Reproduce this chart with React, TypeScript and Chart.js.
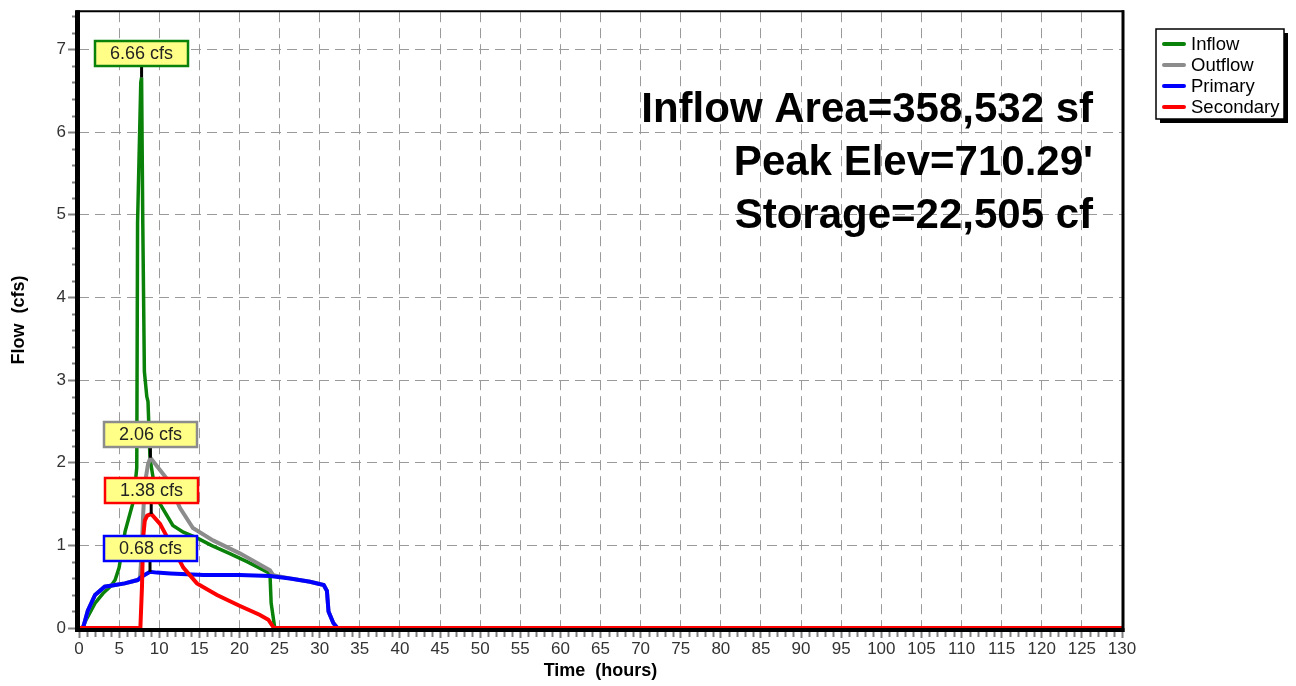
import React, { useEffect, useRef } from "react";
import { Chart, registerables } from "chart.js";
Chart.register(...registerables);

// ---- data (hours, cfs) ----
const inflowTime = [0, 0.4, 1.0, 2.0, 3.0, 3.9, 4.5, 5.0, 5.75, 6.4, 6.8, 7.2, 7.3, 7.7, 7.8, 7.95, 8.15, 8.45, 8.6, 8.85, 9.5, 10.1, 11.7, 13.0, 14.7, 16.5, 18.8, 21.0, 23.8, 23.95, 24.4, 130];
const inflowFlow = [0, 0, 0.12, 0.3, 0.42, 0.5, 0.58, 0.73, 1.17, 1.4, 1.54, 1.94, 4.9, 6.6, 6.66, 4.9, 3.1, 2.8, 2.74, 2.05, 1.66, 1.5, 1.24, 1.16, 1.09, 1.0, 0.9, 0.8, 0.66, 0.3, 0, 0];

const outflowTime = [0, 0.5, 1.1, 2.0, 3.2, 4.5, 5.7, 7.3, 7.6, 7.8, 8.0, 8.2, 8.6, 8.9, 9.7, 10.9, 12.6, 14.2, 16.7, 20.1, 23.8, 24.2, 26.3, 28.8, 30.5, 30.9, 31.1, 31.7, 32.2, 130];
const outflowFlow = [0, 0, 0.21, 0.4, 0.5, 0.52, 0.54, 0.58, 0.6, 0.9, 1.38, 1.74, 1.98, 2.06, 1.96, 1.81, 1.45, 1.21, 1.06, 0.9, 0.7, 0.64, 0.6, 0.56, 0.52, 0.45, 0.2, 0.06, 0, 0];

const primaryTime = [0, 0.5, 1.1, 2.0, 3.2, 4.5, 5.7, 7.3, 7.8, 8.85, 9.7, 11.4, 15.5, 20.0, 23.8, 26.3, 28.8, 30.5, 30.9, 31.1, 31.7, 32.2, 130];
const primaryFlow = [0, 0, 0.21, 0.4, 0.5, 0.52, 0.54, 0.58, 0.62, 0.68, 0.67, 0.66, 0.64, 0.64, 0.63, 0.6, 0.56, 0.52, 0.45, 0.2, 0.06, 0, 0];

const secondaryTime = [0, 7.65, 7.85, 8.0, 8.2, 8.5, 9.0, 10.1, 11.7, 13.0, 14.7, 17.2, 20.0, 22.5, 23.6, 24.3, 130];
const secondaryFlow = [0, 0, 0.5, 1.1, 1.3, 1.36, 1.38, 1.26, 0.97, 0.73, 0.54, 0.4, 0.27, 0.16, 0.1, 0, 0];

const seriesNames = ["Inflow", "Outflow", "Primary", "Secondary"];
const seriesColors = ["#0a820a", "#8c8c8c", "#0000ff", "#ff0000"];
const seriesWidths = [3.5, 4, 4, 4];

const infoLines = ["Inflow Area=358,532 sf", "Peak Elev=710.29'", "Storage=22,505 cf"];
const xTitle = "Time  (hours)";
const yTitle = "Flow  (cfs)";
const xMin = 0, xMax = 130, xStep = 5, xMinorStep = 1;
const yMin = 0, yMax = 7.45, yStep = 1, yMinorStep = 0.2;

const FONT = "Arial, 'Liberation Sans', sans-serif";

const overlayPlugin = {
  id: "overlay",
  afterDatasetsDraw(chart: any) {
    const { ctx, chartArea: ca, scales } = chart;
    const xs = scales.x, ys = scales.y;
    ctx.save();
    // minor ticks
    ctx.strokeStyle = "#808080";
    ctx.lineWidth = 2;
    for (let t = xMin; t <= xMax + 1e-9; t += xMinorStep) {
      if (Math.abs(t / xStep - Math.round(t / xStep)) < 1e-6) continue;
      const px = Math.round(xs.getPixelForValue(t)) + 0.5;
      ctx.beginPath(); ctx.moveTo(px, ca.bottom + 3); ctx.lineTo(px, ca.bottom + 9); ctx.stroke();
    }
    for (let v = yMin; v <= yMax + 1e-9; v += yMinorStep) {
      const r = v / yStep;
      if (Math.abs(r - Math.round(r)) < 1e-6) continue;
      const py = Math.round(ys.getPixelForValue(v)) + 0.5;
      ctx.beginPath(); ctx.moveTo(ca.left - 7, py); ctx.lineTo(ca.left - 2, py); ctx.stroke();
    }
    // frame
    ctx.strokeStyle = "#000";
    ctx.lineWidth = 2;
    ctx.beginPath(); ctx.moveTo(ca.left - 3, ca.top - 1); ctx.lineTo(ca.right + 2, ca.top - 1); ctx.stroke();
    ctx.lineWidth = 3;
    ctx.beginPath(); ctx.moveTo(ca.right + 1, ca.top - 2); ctx.lineTo(ca.right + 1, ca.bottom + 4); ctx.stroke();
    ctx.lineWidth = 5;
    ctx.beginPath(); ctx.moveTo(ca.left - 1.5, ca.top - 2); ctx.lineTo(ca.left - 1.5, ca.bottom + 4); ctx.stroke();
    ctx.lineWidth = 4;
    ctx.beginPath(); ctx.moveTo(ca.left - 4, ca.bottom + 2); ctx.lineTo(ca.right + 2.5, ca.bottom + 2); ctx.stroke();

    // callouts at peaks
    const peaks = chart.data.datasets.map((ds: any, i: number) => {
      let best = ds.data[0];
      for (const p of ds.data) if (p.y > best.y) best = p;
      return { i, p: best, color: ds.borderColor };
    });
    const boxW = 93, boxH = 25, gap = 11;
    ctx.strokeStyle = "#000";
    ctx.lineWidth = 3;
    for (const pk of peaks) {
      const px = xs.getPixelForValue(pk.p.x), py = ys.getPixelForValue(pk.p.y);
      ctx.beginPath(); ctx.moveTo(px, py - gap - boxH / 2); ctx.lineTo(px, py); ctx.stroke();
    }
    for (const pk of peaks) {
      const px = xs.getPixelForValue(pk.p.x), py = ys.getPixelForValue(pk.p.y);
      const bx = Math.round(px - boxW / 2), by = Math.round(py - gap - boxH);
      ctx.fillStyle = "#ffff88";
      ctx.fillRect(bx, by, boxW, boxH);
      ctx.strokeStyle = pk.color;
      ctx.lineWidth = 2.5;
      ctx.strokeRect(bx, by, boxW, boxH);
      ctx.fillStyle = "#222";
      ctx.font = `18px ${FONT}`;
      ctx.textAlign = "center";
      ctx.textBaseline = "middle";
      ctx.fillText(`${pk.p.y.toFixed(2)} cfs`, bx + boxW / 2, by + boxH / 2 + 1);
    }

    // info text
    ctx.fillStyle = "#000";
    ctx.font = `bold 42px ${FONT}`;
    ctx.textAlign = "right";
    ctx.textBaseline = "alphabetic";
    infoLines.forEach((s, i) => ctx.fillText(s, 1093, 122 + i * 53));

    // legend
    const lx = 1156, ly = 29, lw = 128, lh = 90;
    ctx.fillStyle = "#000";
    ctx.fillRect(lx + 4, ly + 4, lw, lh);
    ctx.fillStyle = "#fff";
    ctx.fillRect(lx, ly, lw, lh);
    ctx.strokeStyle = "#000";
    ctx.lineWidth = 1.5;
    ctx.strokeRect(lx, ly, lw, lh);
    ctx.font = `18.5px ${FONT}`;
    ctx.textAlign = "left";
    ctx.textBaseline = "middle";
    chart.data.datasets.forEach((ds: any, i: number) => {
      const yy = 44 + i * 21;
      ctx.strokeStyle = ds.borderColor;
      ctx.lineWidth = 4;
      ctx.lineCap = "round";
      ctx.beginPath(); ctx.moveTo(1164, yy); ctx.lineTo(1184, yy); ctx.stroke();
      ctx.fillStyle = "#000";
      ctx.fillText(ds.label, 1191, yy + 1);
    });
    ctx.restore();
  },
};

export default function App() {
  const ref = useRef<HTMLCanvasElement>(null);
  useEffect(() => {
    const times = [inflowTime, outflowTime, primaryTime, secondaryTime];
    const flows = [inflowFlow, outflowFlow, primaryFlow, secondaryFlow];
    const datasets = seriesNames.map((name, i) => ({
      label: name,
      data: times[i].map((t, k) => ({ x: t, y: flows[i][k] })),
      borderColor: seriesColors[i],
      backgroundColor: seriesColors[i],
      borderWidth: seriesWidths[i],
      pointRadius: 0,
      tension: 0,
      fill: false,
      order: 4 - i,
    }));
    const gridCommon = {
      color: "#9a9a9a",
      lineWidth: 1,
      tickColor: "#808080",
      tickWidth: 2,
      tickBorderDash: [],
    };
    const chart = new Chart(ref.current!, {
      type: "line",
      data: { datasets },
      plugins: [overlayPlugin],
      options: {
        animation: false,
        responsive: false,
        maintainAspectRatio: false,
        layout: { padding: { left: 0, right: 174, top: 7, bottom: 0 } },
        plugins: { legend: { display: false }, tooltip: { enabled: false } },
        scales: {
          x: {
            type: "linear",
            min: xMin,
            max: xMax,
            ticks: { stepSize: xStep, font: { family: FONT, size: 17 }, color: "#333", padding: 1, maxRotation: 0, autoSkip: false },
            grid: { ...gridCommon, tickLength: 10 },
            border: { display: false, dash: [10, 6] },
            title: { display: true, text: xTitle, color: "#000", font: { family: FONT, size: 18, weight: "bold" }, padding: { top: 0, bottom: 4 } },
            afterFit: (s: any) => { s.height = 58; },
          },
          y: {
            type: "linear",
            min: yMin,
            max: yMax,
            ticks: { stepSize: yStep, includeBounds: false, font: { family: FONT, size: 17 }, color: "#333", padding: 2 },
            grid: { ...gridCommon, tickLength: 11 },
            border: { display: false, dash: [10, 6] },
            title: { display: true, text: yTitle, color: "#000", font: { family: FONT, size: 18, weight: "bold" }, padding: { top: 8, bottom: 0 } },
            afterFit: (s: any) => { s.width = 79; },
          },
        },
      } as any,
    });
    return () => chart.destroy();
  }, []);
  return (
    <canvas
      ref={ref}
      width={1296}
      height={686}
      style={{ position: "absolute", left: 0, top: 0, width: 1296, height: 686, background: "#fff" }}
    />
  );
}
